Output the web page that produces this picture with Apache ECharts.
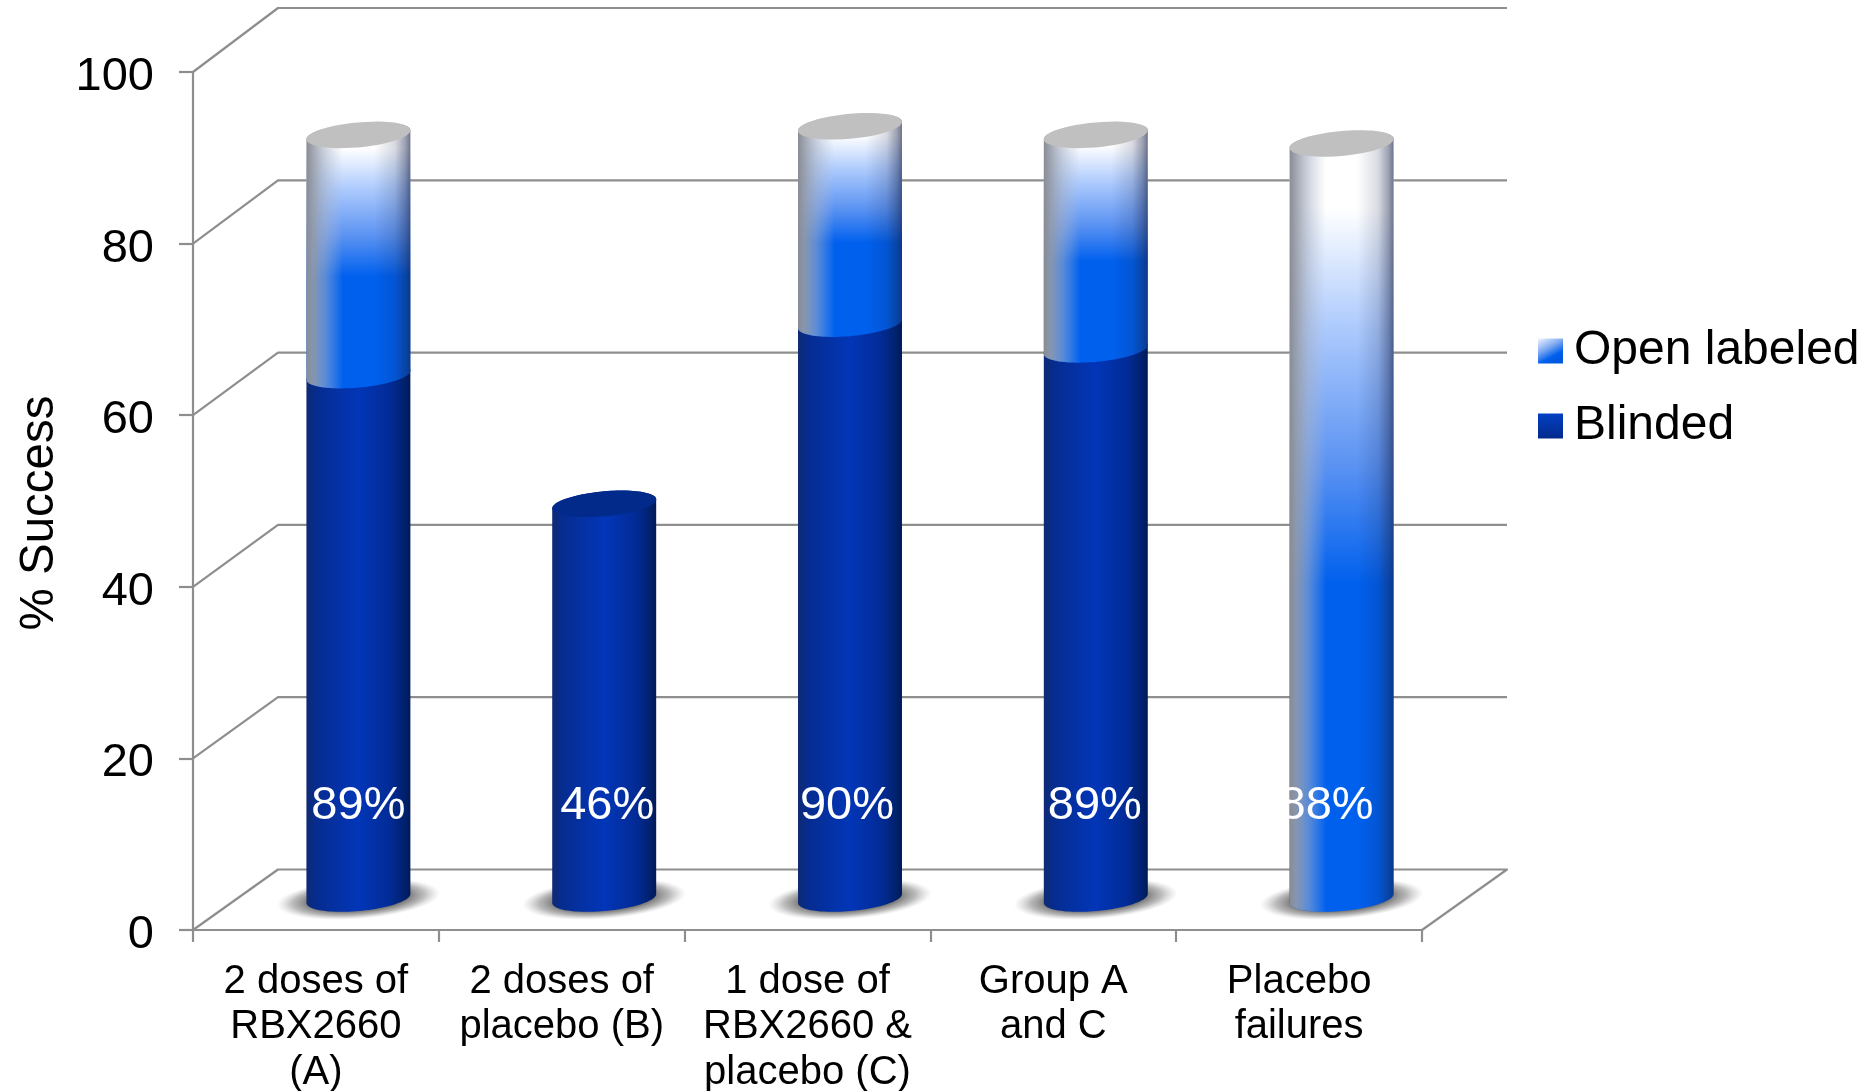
<!DOCTYPE html>
<html>
<head>
<meta charset="utf-8">
<style>html,body{margin:0;padding:0;background:#fff}#chart{width:1874px;height:1091px}</style>
<script src="https://cdn.jsdelivr.net/npm/echarts@6/dist/echarts.min.js"></script>
</head>
<body>
<div id="chart"></div>
<script>
// Trial arms and success rates (percent)
const categories = ['2 doses of\nRBX2660\n(A)', '2 doses of\nplacebo (B)', '1 dose of\nRBX2660 &\nplacebo (C)', 'Group A\nand C', 'Placebo\nfailures'];
const blinded = [61, 46, 67, 64, 0];
const openLabeled = [28, 0, 23, 25, 88];
const statedTotals = [89, 46, 90, 89, 88];
const yTicks = [0, 20, 40, 60, 80, 100];

// Fake-3D layout
const FONT = '"Liberation Sans", Arial, sans-serif';
const DEPTH = { x: 85, y: -63 };
const WALL_RISE = { floor: -60.5, top: -64 };
const BAR_RATIO = 0.423;
const TILT = 4.5, CAP_RY = 12.5;
const LABEL_LEVEL = 14.5;
const LABEL_NUDGE = [0, 3, -3, -1, -15];
const GRID_COLOR = '#8e8e8e';

function vGrad(stops) { return { type: 'linear', x: 0, y: 0, x2: 0, y2: 1, colorStops: stops }; }
function hGrad(stops) { return { type: 'linear', x: 0, y: 0, x2: 1, y2: 0, colorStops: stops }; }
function st(offset, color) { return { offset, color }; }

const OPEN_FILL = vGrad([st(0, '#ffffff'), st(0.1, '#ffffff'), st(0.25, '#aecbfd'), st(0.43, '#5a92f2'), st(0.58, '#0060ee'), st(1, '#0060ee')]);
const OPEN_LEFT = hGrad([st(0, 'rgba(136,140,150,1)'), st(0.06, 'rgba(150,155,165,0.9)'), st(0.18, 'rgba(165,175,195,0.55)'), st(0.35, 'rgba(180,190,210,0)'), st(1, 'rgba(180,190,210,0)')]);
const OPEN_RIGHT = hGrad([st(0, 'rgba(20,30,70,0)'), st(0.65, 'rgba(20,30,70,0)'), st(0.85, 'rgba(20,30,70,0.16)'), st(0.95, 'rgba(20,30,70,0.42)'), st(1, 'rgba(20,30,70,0.62)')]);
const BLINDED_FILL = hGrad([st(0, '#0f2a74'), st(0.1, '#062c90'), st(0.5, '#0236b8'), st(0.8, '#022b96'), st(0.93, '#012272'), st(1, '#001a58')]);

// Front and back halves of the sheared ellipse ending a cylinder
function arc(cx, cy, a, fromT, toT) {
  const pts = [];
  const n = 48;
  for (let i = 0; i <= n; i++) {
    const t = fromT + (toT - fromT) * i / n;
    pts.push([cx + a * Math.cos(t), cy - TILT * Math.cos(t) + CAP_RY * Math.sin(t)]);
  }
  return pts;
}

function cylinderCentre(api, i, value) {
  const p = api.coord([i, value]);
  return [p[0] + DEPTH.x / 2, p[1] + DEPTH.y / 2];
}

function renderWalls(params, api) {
  const v = api.value(0);
  const sys = params.coordSys;
  const p = api.coord([0, v]);
  const left = sys.x, right = sys.x + sys.width;
  const rise = WALL_RISE.floor + (WALL_RISE.top - WALL_RISE.floor) * v / 100;
  const style = { stroke: GRID_COLOR, lineWidth: 2.2, fill: null, lineJoin: 'round' };
  const points = [[left, p[1]], [left + DEPTH.x, p[1] + rise], [right + DEPTH.x, p[1] + rise]];
  if (v === 0) points.push([right, p[1]]);
  return { type: 'polyline', shape: { points }, style };
}

function renderShadow(params, api) {
  const c = cylinderCentre(api, api.value(0), 0);
  return {
    type: 'circle',
    x: c[0], y: c[1] + 0.5,
    scaleX: 0.82, scaleY: 0.2, rotation: 0.075,
    shape: { cx: 0, cy: 0, r: 100 },
    style: {
      fill: {
        type: 'radial', x: 0.5, y: 0.5, r: 0.5,
        colorStops: [st(0, 'rgba(95,95,95,0.95)'), st(0.6, 'rgba(110,110,110,0.95)'), st(0.8, 'rgba(140,140,140,0.6)'), st(1, 'rgba(180,180,180,0)')]
      }
    }
  };
}

function segmentBody(params, api) {
  const i = api.value(0), lo = api.value(1), hi = api.value(2);
  if (hi <= lo) return null;
  const a = api.size([1, 0])[0] * BAR_RATIO / 2;
  const b = cylinderCentre(api, i, lo), t = cylinderCentre(api, i, hi);
  const points = arc(b[0], b[1], a, 0, Math.PI).concat(arc(t[0], t[1], a, Math.PI, 2 * Math.PI));
  return { points, cap: arc(t[0], t[1], a, 0, 2 * Math.PI) };
}

function renderBlinded(params, api) {
  const s = segmentBody(params, api);
  if (!s) return null;
  const hasOpen = openLabeled[api.value(0)] > 0;
  const children = [{ type: 'polygon', shape: { points: s.points }, style: { fill: BLINDED_FILL } }];
  if (!hasOpen) children.push({ type: 'polygon', shape: { points: s.cap }, style: { fill: '#022a8a' } });
  return { type: 'group', children };
}

function renderOpen(params, api) {
  const s = segmentBody(params, api);
  if (!s) return null;
  return {
    type: 'group',
    children: [
      { type: 'polygon', shape: { points: s.points }, style: { fill: OPEN_FILL } },
      { type: 'polygon', shape: { points: s.points }, style: { fill: OPEN_LEFT } },
      { type: 'polygon', shape: { points: s.points }, style: { fill: OPEN_RIGHT } },
      { type: 'polygon', shape: { points: s.cap }, style: { fill: '#c0c0c0' } }
    ]
  };
}

function renderTotal(params, api) {
  const i = api.value(0);
  const c = cylinderCentre(api, i, 0);
  const level = api.coord([i, LABEL_LEVEL]);
  return {
    type: 'text',
    x: c[0] + LABEL_NUDGE[i], y: level[1],
    style: { text: api.value(1) + '%', fill: '#ffffff', font: '47px ' + FONT, align: 'center', verticalAlign: 'middle' }
  };
}

const option = {
  animation: false,
  backgroundColor: '#ffffff',
  grid: { left: 193, right: 452, top: 72, bottom: 161, outerBoundsMode: 'none' },
  legend: {
    left: 1533, top: 319, orient: 'vertical',
    selectedMode: false,
    itemWidth: 25, itemHeight: 25, itemGap: 21,
    textStyle: { color: '#000', fontFamily: FONT, fontSize: 48, lineHeight: 54, padding: [0, 0, 0, 6] },
    data: [
      {
        name: 'Open labeled', icon: 'rect',
        itemStyle: { color: { type: 'linear', x: 0, y: 0, x2: 0.55, y2: 1, colorStops: [st(0, '#f2f6ff'), st(0.45, '#7fa9f0'), st(0.8, '#0060ee'), st(1, '#0058e0')] } }
      },
      {
        name: 'Blinded', icon: 'rect',
        itemStyle: { color: vGrad([st(0, '#0340c4'), st(1, '#022a8c')]) }
      }
    ]
  },
  xAxis: {
    type: 'category',
    data: categories,
    boundaryGap: true,
    axisLine: { show: true, lineStyle: { color: GRID_COLOR, width: 2.2 } },
    axisTick: { show: true, alignWithLabel: false, length: 12, lineStyle: { color: GRID_COLOR, width: 2.2 } },
    axisLabel: { color: '#000', fontFamily: FONT, fontSize: 40, lineHeight: 45.5, margin: 29, interval: 0 }
  },
  yAxis: {
    type: 'value', min: 0, max: 100, interval: 20,
    name: '% Success', nameLocation: 'middle', nameRotate: 90, nameGap: 129,
    nameTextStyle: { color: '#000', fontFamily: FONT, fontSize: 47.5, padding: [0, 24, 0, 0] },
    axisLine: { show: true, lineStyle: { color: GRID_COLOR, width: 2.2 } },
    axisTick: { show: true, length: 14, lineStyle: { color: GRID_COLOR, width: 2.2 } },
    axisLabel: {
      margin: 39,
      formatter: '{n|{value}}',
      rich: { n: { color: '#000', fontFamily: FONT, fontSize: 47, padding: [10, 0, 0, 0] } }
    },
    splitLine: { show: false }
  },
  series: [
    { type: 'custom', name: 'walls', z: 1, silent: true, renderItem: renderWalls, encode: { y: 0 }, data: yTicks.map(v => [v]), coordinateSystem: 'cartesian2d' },
    { type: 'custom', name: 'shadows', z: 2, silent: true, renderItem: renderShadow, encode: { x: 0 }, data: categories.map((c, i) => [i]) },
    { type: 'custom', name: 'Blinded', z: 3, silent: true, renderItem: renderBlinded, encode: { x: 0, y: [1, 2] }, data: blinded.map((v, i) => [i, 0, v]) },
    { type: 'custom', name: 'Open labeled', z: 4, silent: true, renderItem: renderOpen, encode: { x: 0, y: [1, 2] }, data: openLabeled.map((v, i) => [i, blinded[i], blinded[i] + v]) },
    { type: 'custom', name: 'totals', z: 5, silent: true, renderItem: renderTotal, encode: { x: 0 }, data: statedTotals.map((v, i) => [i, v]) }
  ]
};

echarts.init(document.getElementById('chart'), null, { renderer: 'canvas' }).setOption(option);
</script>
</body>
</html>
